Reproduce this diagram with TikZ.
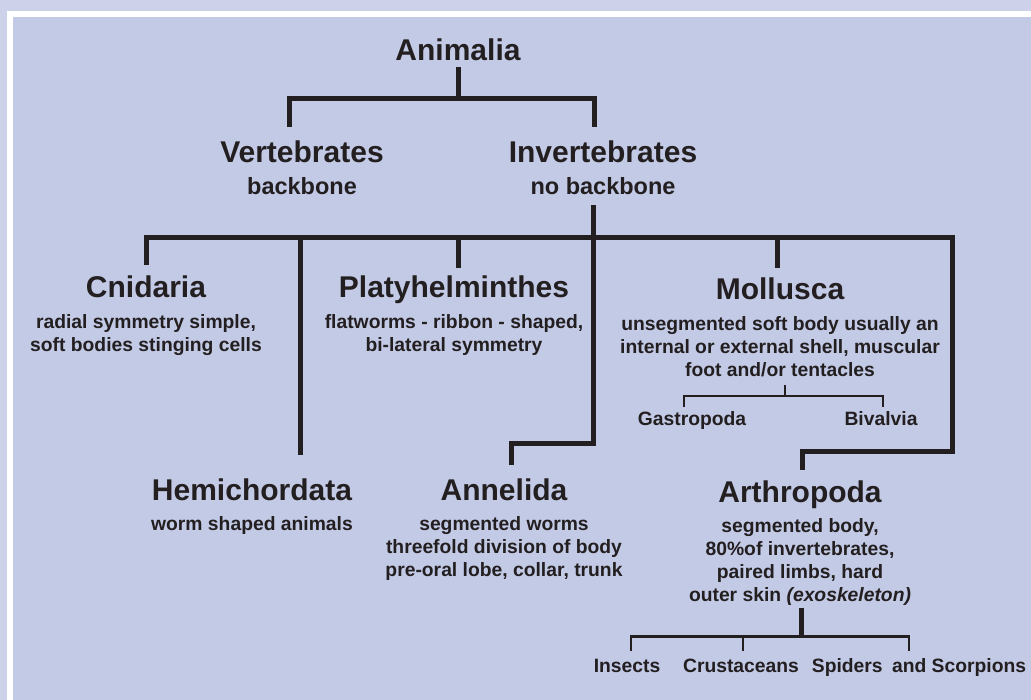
\documentclass[tikz,border=0pt]{standalone}
\usepackage{fontspec}
\setmainfont{Liberation Sans}
\usetikzlibrary{positioning}
\definecolor{pagebg}{RGB}{205,210,234}
\definecolor{panelbg}{RGB}{195,202,230}
\definecolor{ink}{RGB}{35,31,32}

\begin{document}
\begin{tikzpicture}[x=1pt, y=-1pt,
  taxon/.style={inner sep=0pt, anchor=base, text height=22pt, text depth=6pt,
                font=\fontsize{30}{34}\selectfont\bfseries, text=ink},
  note/.style={inner sep=0pt, align=center, text=ink,
               font=\fontsize{19.3}{23}\selectfont\bfseries},
  bignote/.style={note, font=\fontsize{23.5}{27}\selectfont\bfseries},
  leaf/.style={inner sep=0pt, anchor=base, text height=14pt, text depth=4pt,
               font=\fontsize{19.3}{23}\selectfont\bfseries, text=ink},
  branch/.style={draw=ink, line width=5pt},
  twig/.style={draw=ink, line width=2.8pt}
]
  \useasboundingbox (0,0) rectangle (1031,700);
  \fill[pagebg] (0,0) rectangle (1031,700);
  \fill[white] (7,11) rectangle (1031,700);
  \fill[panelbg] (13,17) rectangle (1031,700);

  % kingdom
  \node[taxon] (animalia) at (458,61) {Animalia};
  \node[taxon] (vert) at (302,163) {Vertebrates};
  \node[bignote, below=8pt of vert] (vertdesc) {backbone};
  \node[taxon] (invert) at (603,163) {Invertebrates};
  \node[bignote, below=8pt of invert] (invertdesc) {no backbone};

  % phyla
  \node[taxon] (cnidaria) at (146,298) {Cnidaria};
  \node[note, below=10pt of cnidaria] (cnidariadesc) {radial symmetry simple,\\soft bodies stinging cells};
  \node[taxon] (platy) at (454,298) {Platyhelminthes};
  \node[note, below=10pt of platy] (platydesc) {flatworms - ribbon - shaped,\\bi-lateral symmetry};
  \node[taxon] (mollusca) at (780,300) {Mollusca};
  \node[note, below=10pt of mollusca] (molluscadesc) {unsegmented soft body usually an\\internal or external shell, muscular\\foot and/or tentacles};
  \node[leaf] (gastropoda) at (692,426) {Gastropoda};
  \node[leaf] (bivalvia) at (881,426) {Bivalvia};
  \node[taxon] (hemichordata) at (252,500) {Hemichordata};
  \node[note, below=10pt of hemichordata] (hemidesc) {worm shaped animals};
  \node[taxon] (annelida) at (504,500) {Annelida};
  \node[note, below=10pt of annelida] (annelidadesc) {segmented worms\\threefold division of body\\pre-oral lobe, collar, trunk};
  \node[taxon] (arthropoda) at (800,502) {Arthropoda};
  \node[note, below=10pt of arthropoda] (arthropodadesc) {segmented body,\\80\%of invertebrates,\\paired limbs, hard\\outer skin \textit{(exoskeleton)}};
  \node[leaf] (insects) at (627,672) {Insects};
  \node[leaf] (crustaceans) at (741,672) {Crustaceans};
  \node[leaf] (spiders) at (919,672) {Spiders\hspace{4pt} and Scorpions};

  % connectors
  \draw[branch] (animalia.south) -- ++(0,31) coordinate (kingdom-bar);
  \draw[branch] ([xshift=-13pt,yshift=14pt]vert.north) |- (kingdom-bar) -| ([xshift=-9pt,yshift=14pt]invert.north);
  \draw[branch] ([xshift=-10pt,yshift=-10pt]invertdesc.south) -- ++(0,33) coordinate (phyla-bar)
    -- ++(0,206) -| ([xshift=7pt,yshift=13pt]annelida.north);
  \draw[branch] ([yshift=11pt]cnidaria.north) |- (phyla-bar) -- ++(359,0) -- ++(0,214)
    -| ([xshift=2pt,yshift=10pt]arthropoda.north);
  \draw[branch] ([xshift=48pt,yshift=23pt]hemichordata.north) -- ([xshift=48pt]hemichordata.north |- phyla-bar);
  \draw[branch] ([xshift=4pt,yshift=8pt]platy.north) -- ([xshift=4pt]platy.north |- phyla-bar);
  \draw[branch] ([xshift=-3pt,yshift=10pt]mollusca.north) -- ([xshift=-3pt]mollusca.north |- phyla-bar);

  % mollusca classes
  \draw[twig] ([xshift=5pt,yshift=-8pt]molluscadesc.south) -- ++(0,11) coordinate (mollusca-bar);
  \draw[twig] ([xshift=-8pt,yshift=5pt]gastropoda.north) |- (mollusca-bar) -| ([xshift=2pt,yshift=5pt]bivalvia.north);

  % arthropoda classes
  \draw[branch] ([xshift=1pt,yshift=-2pt]arthropodadesc.south) -- ++(0,29) coordinate (arthropoda-bar);
  \draw[twig] ([xshift=4pt,yshift=7pt]insects.north) |- (arthropoda-bar) -| ([xshift=-10pt,yshift=7pt]spiders.north);
  \draw[twig] ([xshift=2pt,yshift=7pt]crustaceans.north) -- ([xshift=2pt]crustaceans.north |- arthropoda-bar);
\end{tikzpicture}
\end{document}
